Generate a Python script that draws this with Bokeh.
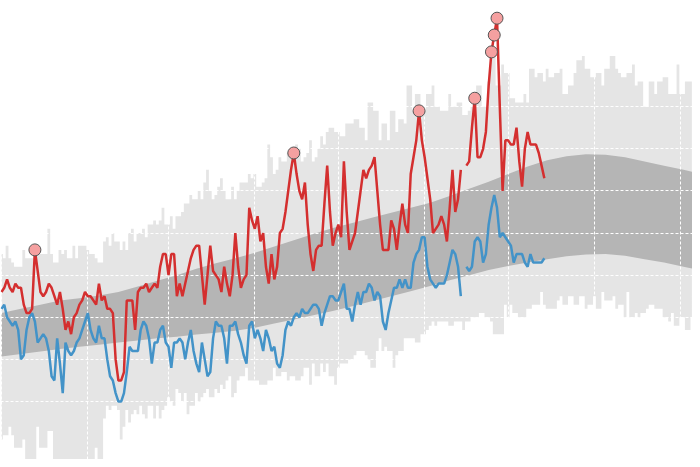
import math
from bokeh.plotting import figure
from bokeh.models import Range1d, FixedTicker
from bokeh.embed import file_html
from bokeh.resources import INLINE

nan = float("nan")

# Day of year (0 = Jan 1, leap year)
month_starts = [0, 31, 60, 91, 121, 152, 182, 213, 244, 274, 305, 335]
temp_ticks = [30, 40, 50, 60, 70, 80, 90, 100]

# Observed daily highs / lows (°F), day 0..195
daily_high = [
    56, 57, 59, 57, 56, 58, 57, 57, 53, 51,
    51, 52, 66, 61, 56, 55, 56, 58, 57, 55,
    53, 56, 52, 47, 49, 46, 50, 51, 53, 54,
    56, 55, 55, 54, 53, 58, 54, 55, 52, 52,
    51, 40, 35, 35, 37, 54, 54, 54, 47, 56,
    57, 57, 58, 56, 57, 58, 57, 62, 65, 65,
    60, 65, 65, 55, 58, 55, 58, 61, 64, 66,
    67, 67, 60, 53, 60, 67, 61, 60, 59, 56,
    62, 58, 55, 60, 70, 62, 57, 59, 60, 76,
    73, 71, 74, 68, 70, 62, 58, 65, 59, 62,
    70, 71, 75, 80, 85, 89, 84, 80, 78, 82,
    72, 65, 61, 66, 67, 67, 77, 86, 75, 67,
    70, 72, 69, 87, 75, 66, 68, 70, 75, 80,
    85, 83, 85, 86, 88, 80, 72, 66, 66, 66,
    73, 71, 66, 72, 77, 72, 70, 84, 88, 92,
    99, 92, 88, 83, 78, 70, 71, 72, 74, 72,
    68, 76, 85, 75, 78, 85, nan, 86, 87, 95,
    102, 88, 88, 90, 94, 105, 113, 117, 121, 100,
    80, 92, 92, 91, 91, 95, 87, 81, 90, 94,
    91, 91, 91, 89, 86, 83,
]
daily_low = [
    52, 53, 50, 49, 48, 49, 47, 40, 41, 47,
    50, 51, 49, 44, 45, 46, 45, 42, 36, 35,
    45, 39, 32, 44, 42, 41, 42, 44, 45, 47,
    49, 51, 47, 45, 44, 48, 45, 45, 40, 36,
    35, 32, 30, 30, 32, 37, 43, 42, 42, 42,
    47, 49, 48, 45, 39, 44, 44, 47, 48, 44,
    43, 38, 44, 44, 45, 44, 40, 44, 47, 42,
    39, 37, 44, 40, 36, 37, 45, 49, 48, 48,
    45, 39, 48, 48, 49, 46, 44, 41, 39, 48,
    49, 45, 47, 45, 42, 47, 45, 42, 43, 39,
    38, 41, 47, 49, 48, 50, 51, 50, 52, 51,
    51, 52, 53, 53, 52, 48, 51, 53, 55, 55,
    54, 54, 56, 58, 52, 52, 49, 53, 56, 53,
    56, 56, 58, 57, 54, 56, 55, 49, 47, 51,
    54, 57, 57, 59, 57, 59, 57, 57, 63, 65,
    66, 69, 69, 62, 59, 58, 57, 58, 58, 58,
    60, 63, 66, 65, 62, 55, nan, 62, 61, 62,
    68, 69, 68, 63, 65, 72, 76, 79, 76, 69,
    70, 69, 68, 67, 63, 65, 65, 65, 63, 62,
    65, 63, 63, 63, 63, 64,
]
record_broken_days = [12, 105, 150, 170, 176, 177, 178]

# Record highs / lows per day, day 0..248
record_high = [
    65, 64, 67, 64, 63, 62, 62, 62, 66, 64,
    64, 64, 65, 65, 65, 65, 65, 71, 65, 63,
    63, 66, 65, 66, 64, 64, 67, 64, 67, 67,
    67, 66, 65, 65, 64, 63, 63, 68, 69, 67,
    70, 68, 68, 66, 68, 66, 70, 71, 68, 70,
    70, 71, 69, 72, 72, 73, 72, 73, 76, 72,
    72, 74, 71, 74, 74, 75, 77, 77, 79, 78,
    78, 80, 78, 82, 85, 80, 78, 79, 81, 83,
    80, 78, 78, 81, 78, 80, 82, 82, 82, 84,
    83, 84, 81, 81, 82, 83, 91, 88, 84, 85,
    88, 87, 87, 89, 88, 89, 91, 90, 87, 88,
    89, 92, 87, 88, 90, 93, 91, 94, 95, 95,
    94, 94, 93, 93, 96, 96, 96, 97, 97, 95,
    95, 92, 101, 101, 99, 99, 92, 96, 96, 92,
    99, 99, 94, 97, 97, 96, 105, 105, 99, 103,
    103, 99, 99, 103, 103, 105, 100, 100, 99, 99,
    99, 103, 100, 100, 101, 101, 98, 98, 99, 100,
    100, 105, 105, 100, 100, 106, 112, 112, 105, 105,
    110, 108, 108, 102, 102, 101, 101, 101, 103, 101,
    109, 109, 107, 108, 108, 106, 109, 107, 107, 108,
    108, 109, 103, 103, 105, 105, 108, 111, 111, 112,
    109, 109, 107, 107, 108, 108, 105, 109, 109, 112,
    112, 109, 108, 107, 107, 108, 108, 110, 105, 106,
    106, 100, 100, 106, 106, 103, 106, 106, 107, 107,
    103, 103, 103, 110, 103, 103, 106, 106, 106,
]
record_low = [
    21, 22, 22, 24, 22, 19, 19, 19, 21, 14,
    12, 13, 15, 24, 19, 19, 19, 23, 23, 12,
    10, 13, 11, 14, 12, 10, 13, 15, 11, 14,
    12, 15, 13, 14, 19, 15, 13, 26, 29, 28,
    29, 29, 28, 21, 24, 28, 25, 27, 28, 27,
    29, 27, 26, 29, 29, 26, 29, 26, 28, 29,
    31, 30, 29, 33, 32, 30, 32, 27, 29, 29,
    32, 30, 31, 32, 33, 31, 31, 33, 32, 34,
    33, 35, 36, 31, 32, 35, 36, 36, 38, 35,
    35, 35, 35, 34, 34, 34, 35, 35, 38, 36,
    36, 37, 37, 35, 36, 36, 35, 35, 36, 38,
    38, 34, 39, 36, 36, 39, 37, 39, 36, 36,
    34, 38, 39, 39, 39, 40, 40, 41, 42, 42,
    42, 41, 40, 38, 38, 42, 45, 42, 43, 42,
    42, 38, 41, 42, 42, 45, 45, 45, 45, 44,
    44, 46, 46, 47, 48, 49, 48, 49, 49, 49,
    49, 48, 48, 49, 49, 49, 47, 49, 49, 50,
    50, 50, 51, 51, 50, 50, 49, 46, 46, 46,
    46, 53, 50, 53, 51, 51, 50, 50, 50, 52,
    52, 53, 53, 53, 56, 53, 52, 52, 52, 52,
    54, 55, 53, 53, 55, 55, 53, 53, 55, 55,
    52, 53, 53, 55, 52, 52, 56, 54, 54, 54,
    55, 52, 53, 53, 50, 56, 50, 50, 51, 50,
    51, 51, 52, 53, 53, 52, 52, 52, 50, 50,
    49, 51, 48, 48, 50, 50, 47, 47, 50,
]

# Normal range, weekly
normal_days = [0, 7, 14, 21, 28, 35, 42, 49, 56, 63, 70, 77, 84, 91, 98, 105, 112, 119,
               126, 133, 140, 147, 154, 161, 168, 175, 182, 189, 196, 203, 210, 217, 224,
               231, 238, 245, 252]
normal_high = [51, 52, 53, 54, 54.5, 55.2, 56, 57.3, 58.7, 60, 61.5, 62.8, 64, 65.3, 66.8,
               68.3, 69.8, 71.2, 72.4, 73.6, 74.8, 76, 77.2, 78.8, 80.5, 82.2, 84, 85.8,
               87.3, 88.2, 88.7, 88.6, 88, 87, 86, 85, 84]
normal_low = [40.7, 41.3, 41.9, 42.5, 43, 43.5, 44, 44.5, 45, 45.4, 45.9, 46.3, 46.8, 47.5,
              48.5, 49.5, 50.5, 51.5, 52.6, 53.8, 55, 56.2, 57.4, 58.8, 60, 61.2, 62.2, 63,
              63.8, 64.5, 64.9, 65, 64.6, 63.8, 63, 62, 61]

obs_days = list(range(len(daily_high)))
rec_days = list(range(len(record_high)))
broken_vals = [daily_high[d] for d in record_broken_days]

p = figure(width=692, height=459, output_backend="svg", toolbar_location=None,
           x_range=Range1d(-0.355, 248.22), y_range=Range1d(16.24, 125.2),
           min_border=0, outline_line_color=None, background_fill_color="white")
p.xaxis.visible = False
p.yaxis.visible = False
p.xaxis.ticker = FixedTicker(ticks=month_starts)
p.yaxis.ticker = FixedTicker(ticks=temp_ticks)
p.xgrid.ticker = FixedTicker(ticks=month_starts)
p.ygrid.ticker = FixedTicker(ticks=temp_ticks)
for g in (p.xgrid, p.ygrid):
    g.grid_line_color = "white"
    g.grid_line_dash = "3 2"
    g.grid_line_width = 1
    g.grid_line_alpha = 1.0
    g.level = "underlay"

p.varea_step(x=rec_days, y1=record_low, y2=record_high, step_mode="center",
             fill_color="#e5e5e5", level="image")
p.varea(x=normal_days, y1=normal_low, y2=normal_high, fill_color="#b5b5b5", level="image")

p.line(obs_days, daily_low, line_color="#4393c8", line_width=2.5)
p.line(obs_days, daily_high, line_color="#d42f2f", line_width=2.5)
p.scatter(record_broken_days, broken_vals, size=12, fill_color="#f5a0a0",
          line_color="#555555", line_width=1)

open("out.html", "w").write(file_html(p, INLINE))
